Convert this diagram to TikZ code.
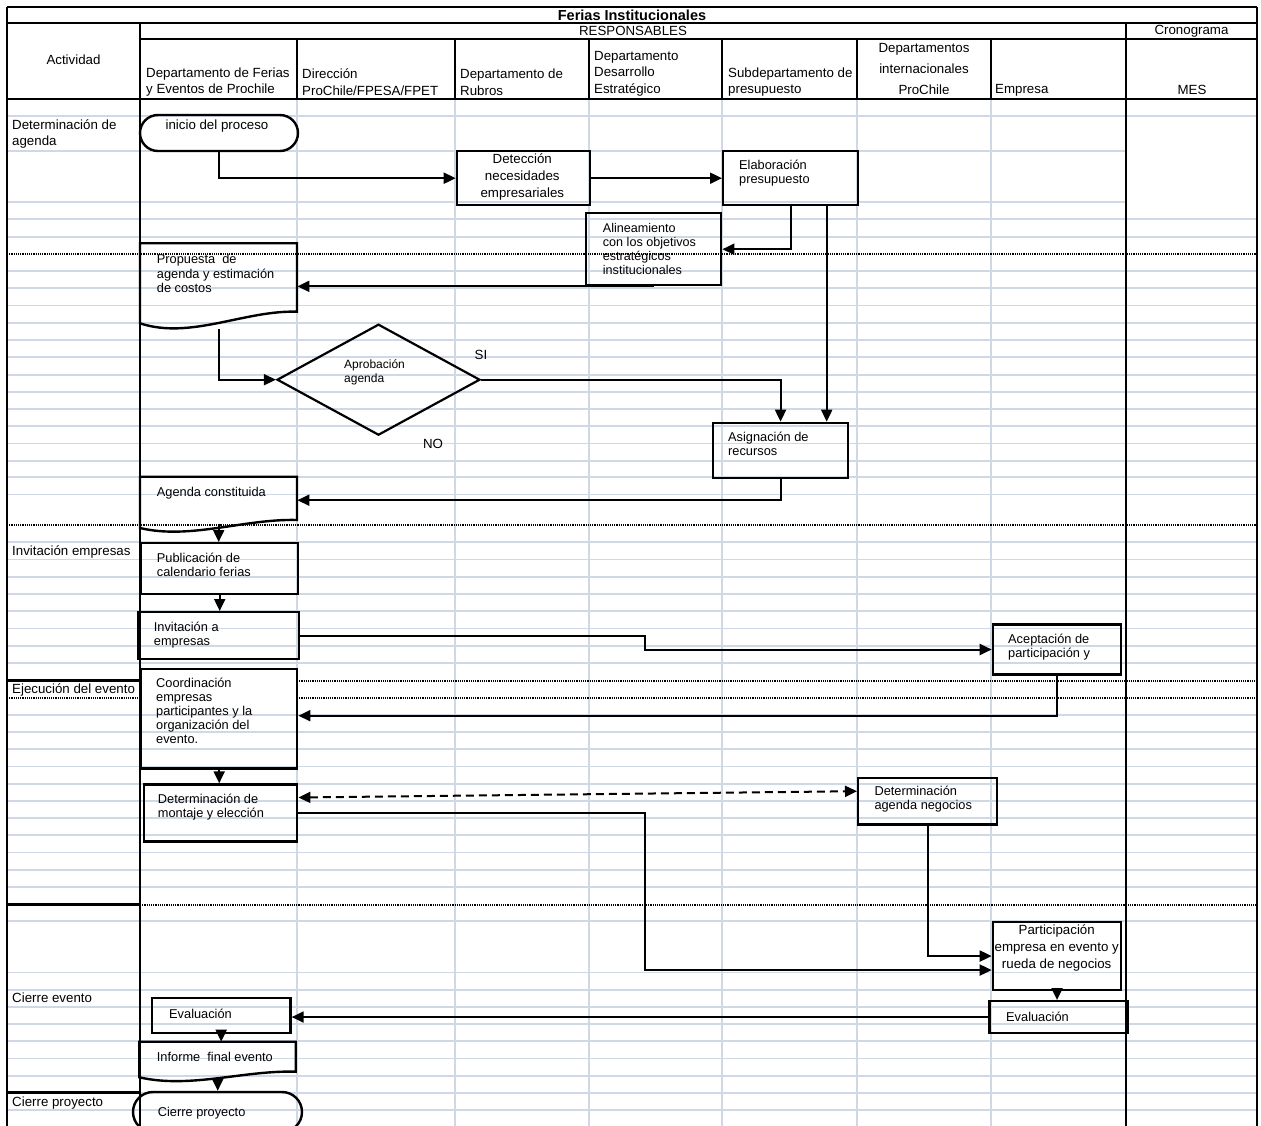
\documentclass[tikz,border=0pt]{standalone}
\usepackage{fontspec}
\setmainfont{Liberation Sans}
\usetikzlibrary{shapes.geometric,shapes.misc,arrows.meta}
\definecolor{gridc}{RGB}{208,215,229}

\begin{document}
\begin{tikzpicture}[x=1pt,y=-1pt,
  gridline/.style={draw=gridc,line width=1.8pt},
  frame/.style={draw=black,line width=2.2pt},
  secline/.style={draw=black,line width=2pt,dash pattern=on 1.2pt off 1pt},
  rect/.style={draw=black,line width=2.4pt,rectangle,inner sep=0pt,anchor=north west},
  term/.style={draw=black,line width=2.4pt,rounded rectangle,inner sep=0pt},
  holder/.style={inner sep=0pt,anchor=north west,rectangle},
  doc/.style={draw=black,line width=2.4pt,line join=miter},
  dec/.style={draw=black,line width=2.2pt,diamond,inner sep=0pt},
  arr/.style={draw=black,line width=2pt,-{Triangle[length=12pt,width=11pt]}},
  darr/.style={draw=black,line width=2pt,dash pattern=on 8pt off 5pt,
    {Triangle[length=12pt,width=11pt]}-{Triangle[length=12pt,width=11pt]}},
  cell/.style={inner sep=0pt,font=\fontsize{13.3}{16.5}\selectfont,align=left},
  boxt/.style={inner sep=0pt,font=\fontsize{12.8}{14}\selectfont,align=left,anchor=west}
]
\useasboundingbox (0,0) rectangle (1261,1126);

% spreadsheet grid
\foreach \yy in {116,219,236.7,271,288.3,305.5,322.7,340,357.3,374.6,391.8,409,426.3,443.5,460.7,477.3,494.5,
  542.3,559.5,576.7,594,611.2,628.4,645.6,662.8,714.9,732.1,749.3,766.5,783.7,800.9,818.1,835.3,852.5,869.7,886.9,
  920.9,972.5,989.7,1006.9,1024.1,1041.3,1058.5,1075.7,1092.9,1110.1}
  \draw[gridline] (7,\yy) -- (1257,\yy);
\foreach \yy in {151,202}
  \draw[gridline] (7,\yy) -- (1126,\yy);
\foreach \xx in {297,455,589,722,857,991}
  \draw[gridline] (\xx,99) -- (\xx,1130);

% table frame
\draw[frame] (7,7) -- (1257,7);
\draw[frame] (7,7) -- (7,1130);
\draw[frame] (1257,7) -- (1257,1130);
\draw[frame] (7,23) -- (1257,23);
\draw[frame] (140,39) -- (1257,39);
\draw[frame] (7,99) -- (1257,99);
\draw[frame] (140,23) -- (140,1130);
\draw[frame] (1126,23) -- (1126,1130);
\foreach \xx in {297,455,589,722,857,991}
  \draw[frame] (\xx,39) -- (\xx,99);

% stage separators
\draw[secline] (7,254) -- (1257,254);
\draw[secline] (7,525) -- (1257,525);
\draw[frame] (7,680.5) -- (140,680.5);
\draw[secline] (297,680.5) -- (1257,680.5);
\draw[secline] (7,697.7) -- (140,697.7);
\draw[secline] (297,697.7) -- (1257,697.7);
\draw[frame] (7,904.5) -- (140,904.5);
\draw[secline] (140,904.5) -- (1257,904.5);
\draw[frame] (7,1092.5) -- (140,1092.5);

% header texts
\node[inner sep=0pt,font=\bfseries\fontsize{14.5}{16}\selectfont] (title) at (632,15) {Ferias Institucionales};
\node[cell] (resp) at (633,31) {RESPONSABLES};
\node[cell] (cron) at (1191.5,31) {Cronograma};
\node[cell] (act) at (73.5,60) {Actividad};
\node[cell,anchor=west] (h1) at (146,82) {Departamento de Ferias\\y Eventos de Prochile};
\node[cell,anchor=west] (h2) at (302,82) {Dirección\\ProChile/FPESA/FPET};
\node[cell,anchor=west] (h3) at (460,82) {Departamento de\\Rubros};
\node[cell,anchor=west] (h4) at (594,73.5) {Departamento\\Desarrollo\\Estratégico};
\node[cell,anchor=west] (h5) at (728,82) {Subdepartamento de\\presupuesto};
\node[cell,align=center,font=\fontsize{13.3}{21}\selectfont] (h6) at (924,69) {Departamentos\\internacionales\\ProChile};
\node[cell,anchor=west] (h7) at (995,90) {Empresa};
\node[cell] (h8) at (1192,90) {MES};

% activity labels
\node[cell,anchor=west] (a1) at (12,134) {Determinación de\\agenda};
\node[cell,anchor=west] (a2) at (12,551.5) {Invitación empresas};
\node[cell,anchor=west] (a3) at (12,690) {Ejecución del evento};
\node[cell,anchor=west] (a4) at (12,998) {Cierre evento};
\node[cell,anchor=west] (a5) at (12,1103) {Cierre proyecto};

% process shapes
\node[term,minimum width=158pt,minimum height=36pt] (ini) at (219,133) {};
\node[cell] (ini-t) at (217,126) {inicio del proceso};

\node[rect,minimum width=133.3pt,minimum height=54pt] (det) at (455.7,150) {};
\node[cell,align=center,font=\fontsize{13.3}{17}\selectfont] (det-t) at (522.3,177) {Detección\\necesidades\\empresariales};

\node[rect,minimum width=135pt,minimum height=54pt] (ela) at (722,150) {};
\node[boxt] (ela-t) at (739,173) {Elaboración\\presupuesto};

\node[rect,minimum width=135pt,minimum height=72pt] (ali) at (585,212) {};
\node[boxt,font=\fontsize{12.6}{14}\selectfont] (ali-t) at (602.7,249) {Alineamiento\\con los objetivos\\estratégicos\\institucionales};

\node[holder,minimum width=157pt,minimum height=85.7pt] (prop) at (140,243.3) {};
\draw[doc] (140,323.3) -- (140,243.3) -- (297,243.3) -- (297,311.7)
  .. controls (245,310) and (190,340) .. (140,323.3) -- cycle;
\node[boxt,font=\fontsize{12.8}{14.5}\selectfont] (prop-t) at (156.7,273.5) {Propuesta\ \ de\\agenda y estimación\\de costos};

\node[dec,minimum width=203pt,minimum height=111pt] (dia) at (378.5,379.7) {};
\node[boxt,font=\fontsize{12}{14}\selectfont] (dia-t) at (344,372) {Aprobación\\agenda};
\node[cell] (si) at (481,355) {SI};
\node[cell] (no) at (433,444) {NO};

\node[rect,minimum width=134.7pt,minimum height=55pt] (asig) at (712,421.7) {};
\node[boxt] (asig-t) at (728,444) {Asignación de\\recursos};

\node[holder,minimum width=157pt,minimum height=46.6pt] (agc) at (140,476.7) {};
\draw[doc] (140,528) -- (140,476.7) -- (297,476.7) -- (297,520)
  .. controls (245,518.5) and (190,540) .. (140,528) -- cycle;
\node[boxt] (agc-t) at (156.7,493) {Agenda constituida};

\node[rect,minimum width=157pt,minimum height=51pt] (pub) at (140,542) {};
\node[boxt] (pub-t) at (156.7,564.7) {Publicación de\\calendario ferias};

\node[rect,minimum width=160.4pt,minimum height=46.7pt] (inv) at (137.3,611) {};
\node[boxt] (inv-t) at (153.7,634.7) {Invitación a\\empresas};

\node[rect,minimum width=128.3pt,minimum height=50pt] (ace) at (991.7,623.3) {};
\node[boxt] (ace-t) at (1008,647.5) {Aceptación de\\participación y};

\node[rect,minimum width=156pt,minimum height=99.6pt] (coo) at (140,667.7) {};
\node[boxt] (coo-t) at (156,710.7) {Coordinación\\empresas\\participantes y la\\organización del\\evento.};

\node[rect,minimum width=153.3pt,minimum height=57pt] (mon) at (142.7,783.3) {};
\node[boxt] (mon-t) at (157.7,807) {Determinación de\\montaje y elección};

\node[rect,minimum width=139pt,minimum height=46.6pt] (neg) at (857,776.7) {};
\node[boxt] (neg-t) at (874.3,799) {Determinación\\agenda negocios};

\node[rect,minimum width=128.3pt,minimum height=68.3pt] (part) at (991.7,920.7) {};
\node[cell,align=center,font=\fontsize{13.3}{17}\selectfont] (part-t) at (1056.7,948) {Participación\\empresa en evento y\\rueda de negocios};

\node[rect,minimum width=138.4pt,minimum height=31.7pt] (ev2) at (988.3,1000) {};
\node[boxt] (ev2-t) at (1006,1016.7) {Evaluación};

\node[rect,minimum width=138.6pt,minimum height=35pt] (ev1) at (150.7,996.7) {};
\node[boxt] (ev1-t) at (169,1014) {Evaluación};

\node[holder,minimum width=156.4pt,minimum height=38.3pt] (inf) at (139.3,1041.7) {};
\draw[doc] (139.3,1077.3) -- (139.3,1041.7) -- (295.7,1041.7) -- (295.7,1071.7)
  .. controls (245,1070) and (190,1089) .. (139.3,1077.3) -- cycle;
\node[boxt] (inf-t) at (156.7,1056.7) {Informe\ \ final evento};

\node[term,minimum width=169pt,minimum height=40pt] (cie) at (217.5,1112) {};
\node[boxt] (cie-t) at (157.7,1113) {Cierre proyecto};

% connectors
\coordinate (elaR) at ([xshift=36pt]ela.south);
\coordinate (bend) at (645,0);
\coordinate (cooIn) at ([yshift=3pt]coo.east);
\coordinate (monA) at ([yshift=15.5pt]mon.east);
\coordinate (negA) at ([yshift=10pt]neg.west);
\coordinate (partIn) at ([yshift=-14pt]part.west);

\draw[arr] (ini.south) |- (det.west);
\draw[arr] (det.east) -- (ela.west);
\draw[arr] (ela.south) |- (ali.east);
\draw[arr] (elaR) -- (elaR |- asig.north);
\draw[arr] (ali.south |- prop.east) -- (prop.east);
\draw[arr] (prop.south) |- (dia.west);
\draw[arr] (dia.east) -| (asig.north);
\draw[arr] (asig.south) |- (agc.east);
\draw[arr] (agc.south) -- (agc.south |- pub.north);
\draw[arr] (pub.south) -- (pub.south |- inv.north);
\draw[arr] (inv.east) -- (inv.east -| bend) |- (ace.west);
\draw[arr] (ace.south) |- (cooIn);
\draw[arr] (coo.south) -- (coo.south |- mon.north);
\draw[darr] (monA) -- (negA);
\draw[arr] (mon.east) -- (mon.east -| bend) |- (partIn);
\draw[arr] (neg.south) |- (part.west);
\draw[arr] (part.south) -- (part.south |- ev2.north);
\draw[arr] (ev2.west) -- (ev2.west -| ev1.east);
\draw[arr] (ev1.south) -- (ev1.south |- inf.north);
\draw[arr] (inf.south) -- (inf.south |- cie.north);
\end{tikzpicture}
\end{document}
